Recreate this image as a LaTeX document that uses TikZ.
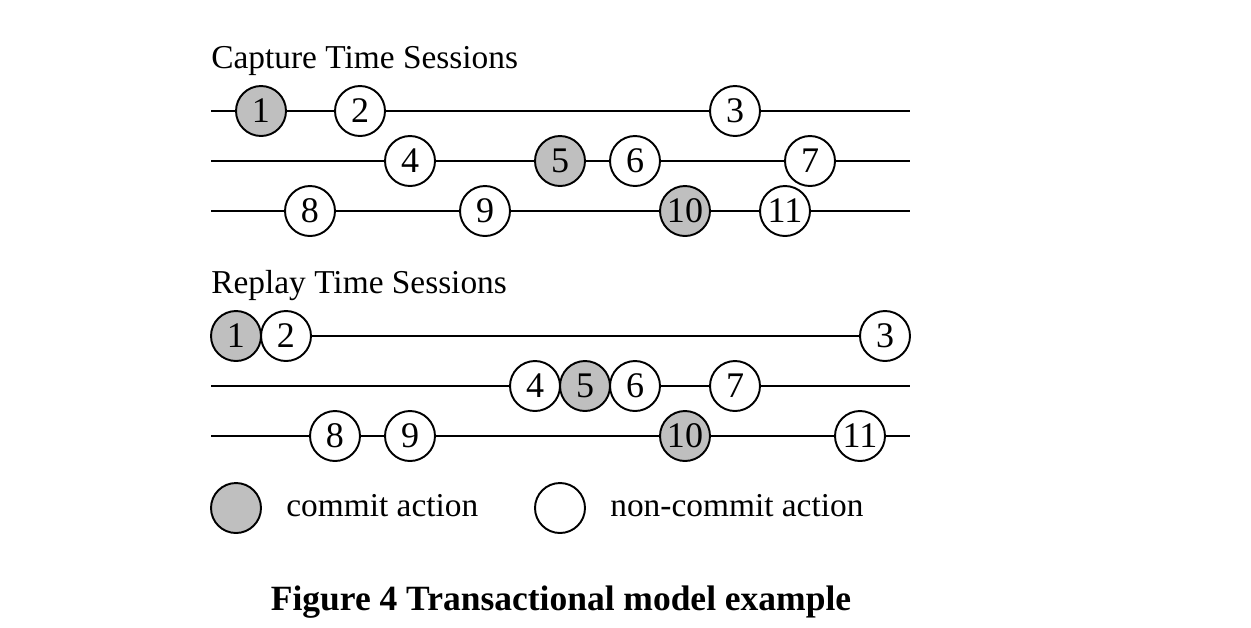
\documentclass[tikz,border=0pt]{standalone}
\usepackage{fontspec}
\setmainfont{Liberation Serif}
\usetikzlibrary{positioning}

\tikzset{
	act/.style={circle, draw=black, line width=1.1pt, fill=white, minimum size=1cm, inner sep=0pt, font=\fontsize{20.5}{24}\selectfont},
	commit/.style={act, fill=black!25},
	session/.style={line width=1.1pt},
	label/.style={anchor=base west, inner sep=0pt, font=\fontsize{19}{22}\selectfont}
}

\begin{document}
\begin{tikzpicture}[x=0.02cm, y=-0.02cm]
	%%%%% START %%%%%
	\useasboundingbox (0, 0) rectangle (1251, 627);
	
	\node[label] (captitle) at (211, 68) {Capture Time Sessions};
	
	% capture, session 1
	\coordinate (ca0) at (211, 111);
	\coordinate (caE) at (910, 111);
	\node[commit] (ca1) at (261, 111) {1};
	\node[act] (ca2) at (360, 111) {2};
	\node[act] (ca3) at (735, 111) {3};
	\draw[session] (ca0) -- (ca1) -- (ca2) -- (ca3) -- (caE);
	
	% capture, session 2
	\coordinate (cb0) at (211, 161);
	\coordinate (cbE) at (910, 161);
	\node[act] (cb4) at (410, 161) {4};
	\node[commit] (cb5) at (560, 161) {5};
	\node[act] (cb6) at (635, 161) {6};
	\node[act] (cb7) at (810, 161) {7};
	\draw[session] (cb0) -- (cb4) -- (cb5) -- (cb6) -- (cb7) -- (cbE);
	
	% capture, session 3
	\coordinate (cc0) at (211, 211);
	\coordinate (ccE) at (910, 211);
	\node[act] (cc8) at (310, 211) {8};
	\node[act] (cc9) at (485, 211) {9};
	\node[commit] (cc10) at (685, 211) {10};
	\node[act] (cc11) at (785, 211) {11};
	\draw[session] (cc0) -- (cc8) -- (cc9) -- (cc10) -- (cc11) -- (ccE);
	
	\node[label] (reptitle) at (211, 293) {Replay Time Sessions};
	
	% replay, session 1
	\node[commit] (ra1) at (236, 336) {1};
	\node[act] (ra2) at (286, 336) {2};
	\node[act] (ra3) at (885, 336) {3};
	\draw[session] (ra2) -- (ra3);
	
	% replay, session 2
	\coordinate (rb0) at (211, 386);
	\coordinate (rbE) at (910, 386);
	\node[act] (rb4) at (535, 386) {4};
	\node[commit] (rb5) at (585, 386) {5};
	\node[act] (rb6) at (635, 386) {6};
	\node[act] (rb7) at (735, 386) {7};
	\draw[session] (rb0) -- (rb4);
	\draw[session] (rb6) -- (rb7) -- (rbE);
	
	% replay, session 3
	\coordinate (rc0) at (211, 436);
	\coordinate (rcE) at (910, 436);
	\node[act] (rc8) at (335, 436) {8};
	\node[act] (rc9) at (410, 436) {9};
	\node[commit] (rc10) at (685, 436) {10};
	\node[act] (rc11) at (860, 436) {11};
	\draw[session] (rc0) -- (rc8) -- (rc9) -- (rc10) -- (rc11) -- (rcE);
	
	% legend
	\node[commit] (keycommit) at (236, 508) {};
	\node[label] (txtcommit) at (286, 516) {commit action};
	\node[act] (keyother) at (560, 508) {};
	\node[label] (txtother) at (610, 516) {non-commit action};
	
	\node[anchor=base, inner sep=0pt, font=\fontsize{20.2}{24}\selectfont\bfseries] (caption) at (561, 610) {Figure 4 Transactional model example};
	%%%%% END %%%%%
\end{tikzpicture}
\end{document}
